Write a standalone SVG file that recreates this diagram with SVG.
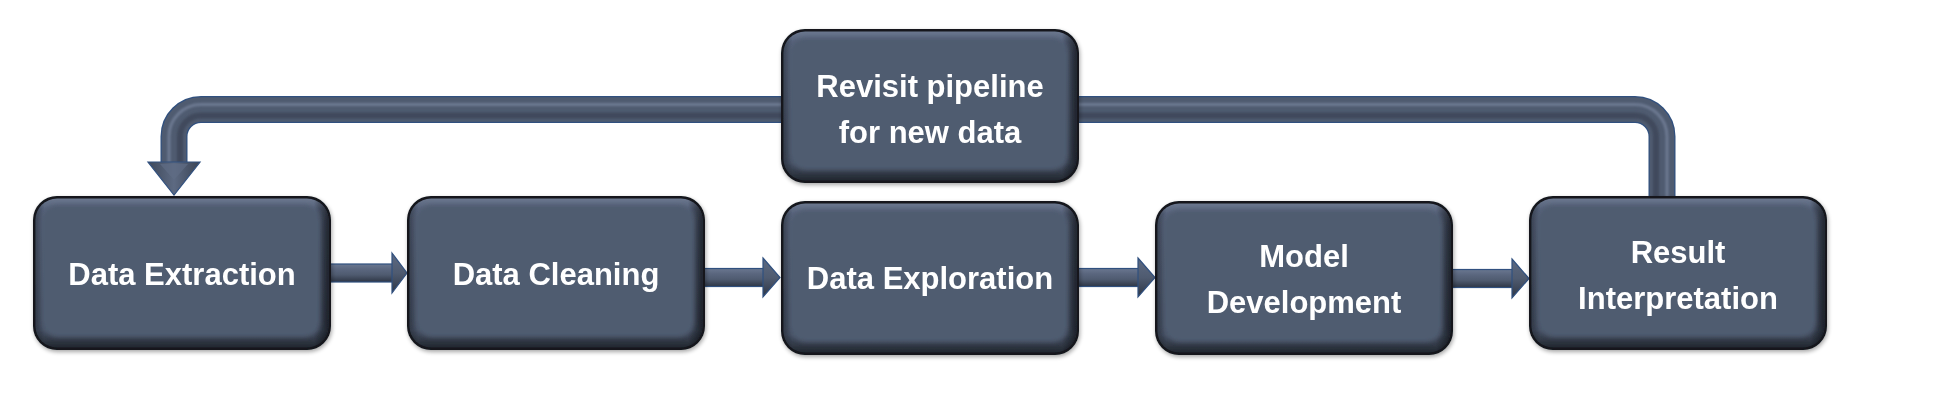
<svg xmlns="http://www.w3.org/2000/svg" xmlns:xlink="http://www.w3.org/1999/xlink" width="1942" height="410" viewBox="0 0 1942 410">
  <defs>
    <style>
      .lbl { font-family: "Liberation Sans", Arial, sans-serif; font-weight: bold; font-size: 31px; fill: #ffffff; text-anchor: middle; }
      .arr { fill: url(#arrGrad); stroke: #30507f; stroke-width: 1.2; stroke-linejoin: miter; }
      .head { fill: url(#headGrad); stroke: #30507f; stroke-width: 1.2; }
    </style>
    <linearGradient id="bevel" x1="0" y1="0" x2="0" y2="1">
      <stop offset="0" stop-color="#6b778e"/>
      <stop offset="0.07" stop-color="#56627a"/>
      <stop offset="0.5" stop-color="#4f5b70"/>
      <stop offset="0.88" stop-color="#465165"/>
      <stop offset="1" stop-color="#22272f"/>
    </linearGradient>
    <linearGradient id="sideShade" x1="0" y1="0" x2="1" y2="0">
      <stop offset="0" stop-color="#000" stop-opacity="0.3"/>
      <stop offset="0.03" stop-color="#000" stop-opacity="0"/>
      <stop offset="0.95" stop-color="#000" stop-opacity="0"/>
      <stop offset="1" stop-color="#000" stop-opacity="0.6"/>
    </linearGradient>
    <linearGradient id="arrGrad" x1="0" y1="0" x2="0" y2="1">
      <stop offset="0" stop-color="#6a7790"/>
      <stop offset="0.3" stop-color="#5a667e"/>
      <stop offset="0.6" stop-color="#4f5b70"/>
      <stop offset="1" stop-color="#2e3645"/>
    </linearGradient>
    <linearGradient id="headGrad" x1="0" y1="0" x2="0" y2="1">
      <stop offset="0" stop-color="#5d6a82"/>
      <stop offset="0.5" stop-color="#4f5b70"/>
      <stop offset="1" stop-color="#2e3645"/>
    </linearGradient>
    <linearGradient id="downHead" x1="0" y1="0" x2="1" y2="0">
      <stop offset="0" stop-color="#3e485a"/>
      <stop offset="0.5" stop-color="#5d6a82"/>
      <stop offset="1" stop-color="#3a4354"/>
    </linearGradient>
    <filter id="soft" x="-5%" y="-5%" width="110%" height="110%">
      <feGaussianBlur stdDeviation="2"/>
    </filter>
    <filter id="soft1" x="-5%" y="-50%" width="110%" height="200%">
      <feGaussianBlur stdDeviation="0.8"/>
    </filter>
    <filter id="shadow" x="-5%" y="-5%" width="112%" height="115%">
      <feGaussianBlur in="SourceAlpha" stdDeviation="2"/>
      <feOffset dx="1" dy="2" result="b"/>
      <feComponentTransfer><feFuncA type="linear" slope="0.35"/></feComponentTransfer>
      <feMerge><feMergeNode/><feMergeNode in="SourceGraphic"/></feMerge>
    </filter>
    <g id="box">
      <rect x="0" y="0" width="298" height="154" rx="24" ry="24" fill="#12161c"/>
      <rect x="2.5" y="2.5" width="293" height="149" rx="21.5" ry="21.5" fill="url(#bevel)"/>
      <rect x="2.5" y="2.5" width="293" height="149" rx="21.5" ry="21.5" fill="url(#sideShade)"/>
      <rect x="9" y="9" width="278" height="132" rx="16" ry="16" fill="#4f5b70" filter="url(#soft)"/>
      <path d="M20 11 H278" stroke="#8692a9" stroke-width="2.5" stroke-linecap="round" filter="url(#soft1)" opacity="0.9"/>
    </g>
  </defs>

  <rect width="1942" height="410" fill="#ffffff"/>

  <g id="connectors">
    <!-- feedback loop -->
    <g id="loop">
      <path d="M1662 200 V136.5 A27 27 0 0 0 1635 109.5 H201 A27 27 0 0 0 174 136.5 V163" fill="none" stroke="#30507f" stroke-width="27"/>
      <path d="M1662 200 V136.5 A27 27 0 0 0 1635 109.5 H201 A27 27 0 0 0 174 136.5 V163" fill="none" stroke="#4f5b70" stroke-width="24.5"/>
      <path d="M1656 200 V136.5 A21 21 0 0 0 1635 115.5 H201 A21 21 0 0 0 180 136.5 V163" fill="none" stroke="#3a4354" stroke-width="6" opacity="0.7" filter="url(#soft1)"/>
      <path d="M1667 200 V136.5 A32 32 0 0 0 1635 104.5 H201 A32 32 0 0 0 169 136.5 V163" fill="none" stroke="#74819a" stroke-width="3" opacity="0.8" filter="url(#soft1)"/>
      <polygon points="148,162 200,162 174,195" fill="url(#downHead)" stroke="#30507f" stroke-width="1.2"/>
      <polygon points="160,164 188,164 174,180" fill="#5f6c84" opacity="0.7"/>
    </g>
    <!-- Extraction -> Cleaning -->
    <g id="e1">
      <rect x="330" y="264" width="63" height="18" class="arr"/>
      <polygon points="392,253 407,273 392,293" class="head"/>
    </g>
    <!-- Cleaning -> Exploration -->
    <g id="e2">
      <rect x="704" y="268.5" width="60" height="18" class="arr"/>
      <polygon points="763,258 780,277.5 763,297" class="head"/>
    </g>
    <!-- Exploration -> Model -->
    <g id="e3">
      <rect x="1078" y="268.5" width="61" height="18" class="arr"/>
      <polygon points="1138,258 1155,277.5 1138,297" class="head"/>
    </g>
    <!-- Model -> Result -->
    <g id="e4">
      <rect x="1452" y="269.5" width="61" height="18" class="arr"/>
      <polygon points="1512,259 1529,278.5 1512,298" class="head"/>
    </g>
  </g>

  <g id="node-extraction" filter="url(#shadow)">
    <use xlink:href="#box" href="#box" x="33" y="196"/>
    <text class="lbl" x="182" y="285">Data Extraction</text>
  </g>
  <g id="node-cleaning" filter="url(#shadow)">
    <use xlink:href="#box" href="#box" x="407" y="196"/>
    <text class="lbl" x="556" y="285">Data Cleaning</text>
  </g>
  <g id="node-exploration" filter="url(#shadow)">
    <use xlink:href="#box" href="#box" x="781" y="201"/>
    <text class="lbl" x="930" y="289">Data Exploration</text>
  </g>
  <g id="node-model" filter="url(#shadow)">
    <use xlink:href="#box" href="#box" x="1155" y="201"/>
    <text class="lbl" x="1304" y="267">Model</text>
    <text class="lbl" x="1304" y="313">Development</text>
  </g>
  <g id="node-result" filter="url(#shadow)">
    <use xlink:href="#box" href="#box" x="1529" y="196"/>
    <text class="lbl" x="1678" y="263">Result</text>
    <text class="lbl" x="1678" y="309">Interpretation</text>
  </g>
  <g id="node-revisit" filter="url(#shadow)">
    <use xlink:href="#box" href="#box" x="781" y="29"/>
    <text class="lbl" x="930" y="97">Revisit pipeline</text>
    <text class="lbl" x="930" y="143">for new data</text>
  </g>
</svg>
